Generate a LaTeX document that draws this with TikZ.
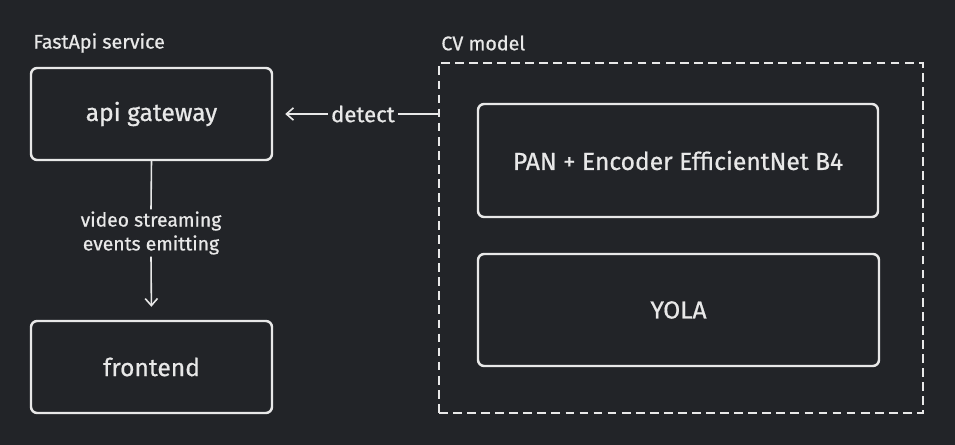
\documentclass[tikz,border=0pt]{standalone}
\usepackage{fontspec}
\setmainfont{Fira Sans}
\newfontfamily\inkfont{Fira Sans}[FakeBold=0.7]
\usetikzlibrary{arrows.meta}
\definecolor{canvas}{RGB}{34,36,40}
\definecolor{chalk}{RGB}{232,232,232}
\begin{document}
\begin{tikzpicture}[
  box/.style={draw=chalk,line width=1.4pt,rounded corners=3.5pt,text=chalk,font=\inkfont\fontsize{14}{16}\selectfont},
  group/.style={draw=chalk,line width=1.4pt,dash pattern=on 5pt off 3pt},
  caption/.style={anchor=west,text=chalk,font=\inkfont\fontsize{11.2}{13}\selectfont,inner sep=0pt},
  link/.style={draw=chalk,line width=0.9pt,-{Straight Barb[length=4pt,width=7pt,line width=0.9pt]}}
]
\fill[canvas] (0,0) rectangle (19.1,8.9);            % the dark canvas
% FastApi service
\node[caption] (fastlbl) at (0.66,8.04) {FastApi service};
\node[box,minimum width=4.82cm,minimum height=1.84cm] (api) at (3.03,6.62) {api gateway};
\node[box,minimum width=4.82cm,minimum height=1.84cm] (front) at (3.03,1.56) {frontend};
\node[text=chalk,font=\inkfont\fontsize{11}{13.6}\selectfont,align=center,inner sep=1pt] (stream) at (3.02,4.24) {video streaming\\events emitting};
\draw[chalk,line width=0.9pt] (api.south) -- (stream.north);
\draw[link,shorten >=0.26cm] (stream.south) -- (front.north);
% CV model
\node[caption] (cvlbl) at (8.82,8.04) {CV model};
\node[group,minimum width=9.68cm,minimum height=7.0cm] (cv) at (13.62,4.14) {};
\node[box,minimum width=8.0cm,minimum height=2.26cm] (pan) at (13.56,5.69) {PAN + Encoder EfficientNet B4};
\node[box,minimum width=8.02cm,minimum height=2.24cm] (yola) at (13.57,2.70) {YOLA};
\draw[link,shorten >=0.24cm] (cv.west |- api.east) -- node[pos=0.455,fill=canvas,text=chalk,inner sep=2pt,font=\inkfont\fontsize{12.6}{14}\selectfont] (det) {detect} (api.east);
\end{tikzpicture}
\end{document}
